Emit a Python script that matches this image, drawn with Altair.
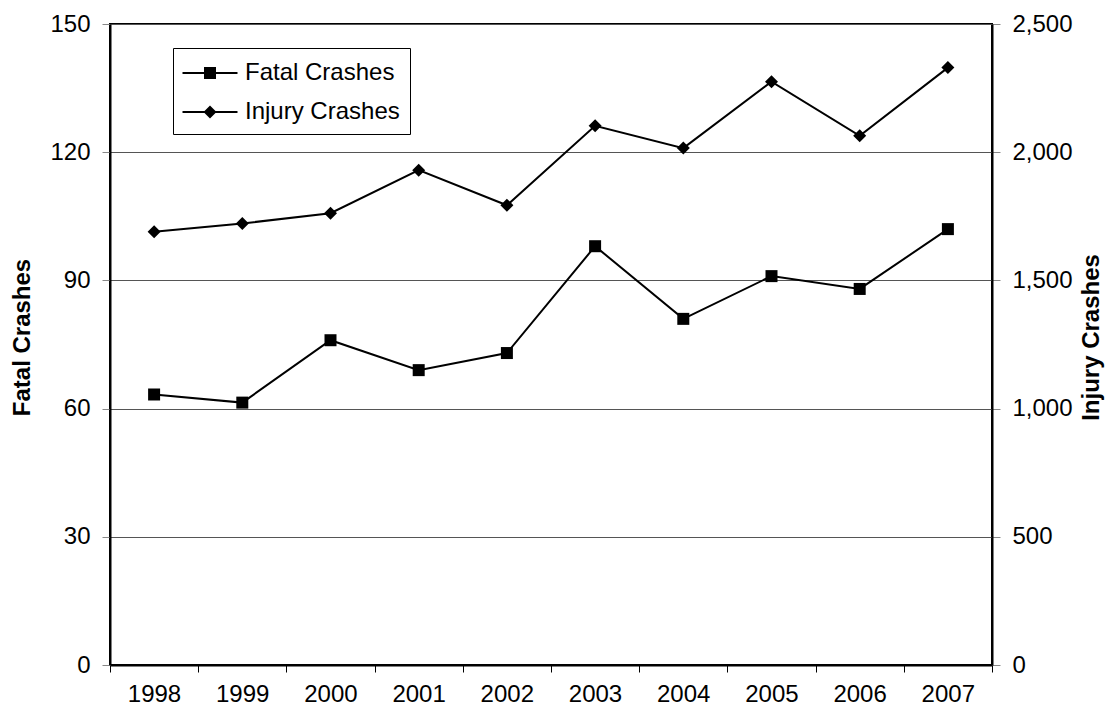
import altair as alt
import pandas as pd

years = [1998, 1999, 2000, 2001, 2002, 2003, 2004, 2005, 2006, 2007]
fatal = [63.3, 61.4, 76, 69, 73, 98, 81, 91, 88, 102]
injury = [1690, 1722, 1762, 1930, 1793, 2103, 2016, 2275, 2064, 2330]
series_names = ["Fatal Crashes", "Injury Crashes"]
x_ticks = [1997.5, 1998.5, 1999.5, 2000.5, 2001.5, 2002.5, 2003.5, 2004.5, 2005.5, 2006.5, 2007.5]
left_ticks = [0, 30, 60, 90, 120, 150]
right_ticks = [0, 500, 1000, 1500, 2000, 2500]

df_fatal = pd.DataFrame({"year": years, "value": fatal})
df_injury = pd.DataFrame({"year": years, "value": injury})
df_legend = pd.DataFrame({"series": series_names})

FONT = "Liberation Sans"
W, H = 882, 641

# legend symbols: a short line with a marker (filled paths, same winding)
LEG_FATAL = "M-1.833,-0.067H1.833V0.067H-1.833ZM-0.4,-0.4H0.4V0.4H-0.4Z"
LEG_INJURY = "M-1.833,-0.067H1.833V0.067H-1.833ZM0,-0.433L0.433,0L0,0.433L-0.433,0Z"

x_enc = alt.X(
    "year:Q",
    scale=alt.Scale(domain=[1997.5, 2007.5], nice=False, zero=False),
    axis=alt.Axis(
        values=x_ticks,
        labelExpr="datum.value < 2007 ? toString(datum.value + 0.5) : ''",
        labelOffset=44,
        labelFlush=False,
        labelOverlap=False,
        labelAlign="center",
        title=None,
        grid=False,
        tickSize=7,
        tickColor="black",
        tickWidth=1,
        domainColor="black",
        domainWidth=2,
        labelFontSize=24,
        labelFont=FONT,
        labelColor="black",
        labelPadding=10,
    ),
)

left_axis = alt.Axis(
    values=left_ticks,
    title="Fatal Crashes",
    grid=True,
    gridColor="#555555",
    gridWidth=1,
    tickColor="#888888",
    tickSize=8,
    domainColor="black",
    domainWidth=2,
    labelFontSize=24,
    labelFont=FONT,
    labelColor="black",
    labelPadding=12,
    titleFontSize=24,
    titleFont=FONT,
    titleFontWeight="bold",
    titleColor="black",
    titleAngle=270,
    titleAlign="center",
    titleBaseline="middle",
    titleX=-88,
    titleY=313,
)

right_axis = alt.Axis(
    values=right_ticks,
    format=",.0f",
    orient="right",
    title="Injury Crashes",
    grid=False,
    tickColor="#888888",
    tickSize=8,
    domainColor="black",
    domainWidth=2,
    labelFontSize=24,
    labelFont=FONT,
    labelColor="black",
    labelPadding=12,
    titleFontSize=24,
    titleFont=FONT,
    titleFontWeight="bold",
    titleColor="black",
    titleAngle=270,
    titleAlign="center",
    titleBaseline="middle",
    titleX=99,
    titleY=313,
)

y_left = alt.Y("value:Q", scale=alt.Scale(domain=[0, 150], nice=False), axis=left_axis)
y_right = alt.Y("value:Q", scale=alt.Scale(domain=[0, 2500], nice=False), axis=right_axis)

fatal_line = alt.Chart(df_fatal).mark_line(color="black", strokeWidth=2).encode(x=x_enc, y=y_left)
fatal_pts = alt.Chart(df_fatal).mark_point(
    filled=True, color="black", size=144, opacity=1, shape="square"
).encode(x=x_enc, y=y_left)

inj_line = alt.Chart(df_injury).mark_line(color="black", strokeWidth=2).encode(x=x_enc, y=y_right)
inj_pts = alt.Chart(df_injury).mark_point(
    filled=True, color="black", size=169, opacity=1, shape="diamond"
).encode(x=x_enc, y=y_right)

legend_layer = alt.Chart(df_legend).mark_point(
    filled=True, color="black", opacity=0
).encode(
    shape=alt.Shape(
        "series:N",
        scale=alt.Scale(domain=series_names, range=[LEG_FATAL, LEG_INJURY]),
        legend=alt.Legend(
            orient="none",
            legendX=63,
            legendY=24,
            title=None,
            strokeColor="black",
            fillColor="white",
            padding=10,
            symbolSize=900,
            symbolStrokeWidth=0,
            symbolFillColor="black",
            symbolOpacity=1,
            symbolOffset=12,
            labelOffset=20,
            rowPadding=12,
            labelFontSize=24,
            labelFont=FONT,
            labelColor="black",
        ),
    )
)

left = alt.layer(fatal_line, fatal_pts)
right = alt.layer(inj_line, inj_pts)

chart = (
    alt.layer(left, right, legend_layer)
    .resolve_scale(y="independent")
    .properties(
        width=W,
        height=H,
        autosize=alt.AutoSizeParams(type="none"),
        padding={"left": 102, "top": 16, "right": 114, "bottom": 40},
        background="white",
    )
    .configure_view(stroke="black", strokeWidth=2)
)

chart.save("out.html", embed_options={"renderer": "svg", "actions": False})
